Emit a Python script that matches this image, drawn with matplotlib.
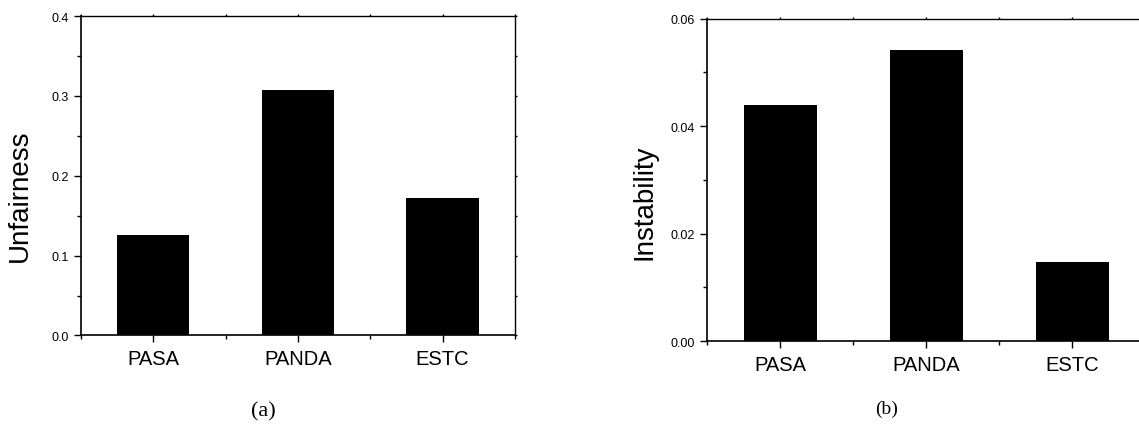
import matplotlib
matplotlib.use("Agg")
import matplotlib.pyplot as plt
from matplotlib.ticker import MultipleLocator, FormatStrFormatter
import numpy as np

# Data
methods = ["PASA", "PANDA", "ESTC"]
unfairness = [0.126, 0.307, 0.172]
instability = [0.0439, 0.0541, 0.0148]

plt.rcParams['font.family'] = ['Liberation Sans', 'DejaVu Sans']

fig = plt.figure(figsize=(11.39, 4.27), dpi=100)
ax1 = fig.add_axes([0.0711, 0.212, 0.381, 0.748])
ax2 = fig.add_axes([0.6207, 0.199, 0.385, 0.755])

x = np.arange(1, len(methods) + 1)


def style(ax, vals, ymax, major, ylabel):
    ax.bar(x, vals, width=0.5, color='black')
    ax.set_xlim(0.5, 3.5)
    ax.set_ylim(0, ymax)
    ax.set_xticks(x)
    ax.set_xticklabels(methods)
    ax.xaxis.set_minor_locator(MultipleLocator(0.5))
    ax.yaxis.set_major_locator(MultipleLocator(major))
    ax.yaxis.set_minor_locator(MultipleLocator(major / 2))
    ax.tick_params(axis='both', which='major', direction='out', length=5, width=1,
                   labelsize=9, top=True, right=True)
    ax.tick_params(axis='both', which='minor', direction='out', length=3, width=1,
                   top=True, right=True)
    ax.tick_params(axis='x', which='major', labelsize=14.5, pad=5)
    for side in ['top', 'right']:
        ax.spines[side].set_linewidth(1)
    for side in ['left', 'bottom']:
        ax.spines[side].set_linewidth(1.2)
    ax.set_ylabel(ylabel, fontsize=20)
    # top/right ticks are barely visible in the reference
    for t in ax.xaxis.get_major_ticks() + ax.xaxis.get_minor_ticks():
        t.tick2line.set_markersize(1.5)
    for t in ax.yaxis.get_major_ticks() + ax.yaxis.get_minor_ticks():
        t.tick2line.set_markersize(1.5)


style(ax1, unfairness, 0.4, 0.1, "Unfairness")
ax1.yaxis.set_major_formatter(FormatStrFormatter('%.1f'))
ax1.yaxis.set_label_coords(-0.11, 0.44)

style(ax2, instability, 0.06, 0.02, "Instability")
ax2.yaxis.set_major_formatter(FormatStrFormatter('%.2f'))
ax2.yaxis.set_label_coords(-0.113, 0.434)

fig.text(263 / 1139, 1 - 412 / 427, "(a)", family=['Liberation Serif'], fontsize=16,
         ha='center', va='center')
fig.text(887 / 1139, 1 - 409 / 427, "(b)", family=['Liberation Serif'], fontsize=14,
         ha='center', va='center')

fig.savefig("out.png", dpi=100)
